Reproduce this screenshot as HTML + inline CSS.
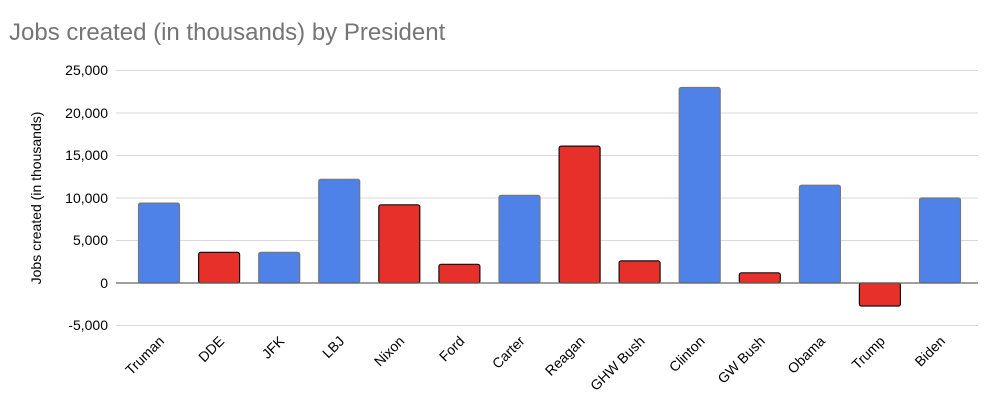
<!DOCTYPE html>
<html><head><meta charset="utf-8"><style>
html,body{margin:0;padding:0;background:#fff;width:1000px;height:411px;overflow:hidden}
svg{display:block;font-family:"Liberation Sans",Arial,sans-serif}
</style></head><body>
<svg width="1000" height="411" viewBox="0 0 1000 411">
<text x="9" y="40" font-size="24" fill="#757575">Jobs created (in thousands) by President</text>
<g stroke="#d9d9d9" stroke-width="1">
<line x1="116" x2="978" y1="70.5" y2="70.5"/>
<line x1="116" x2="978" y1="113" y2="113"/>
<line x1="116" x2="978" y1="155.5" y2="155.5"/>
<line x1="116" x2="978" y1="198" y2="198"/>
<line x1="116" x2="978" y1="240.5" y2="240.5"/>
<line x1="116" x2="978" y1="325.5" y2="325.5"/>
</g>
<g font-size="14" fill="#000" text-anchor="end">
<text x="108" y="75">25,000</text>
<text x="108" y="118">20,000</text>
<text x="108" y="160">15,000</text>
<text x="108" y="203">10,000</text>
<text x="108" y="245">5,000</text>
<text x="108" y="288">0</text>
<text x="108" y="330">-5,000</text>
</g>
<text transform="translate(41,198) rotate(-90)" font-size="14" text-anchor="middle">Jobs created (in thousands)</text>
<g stroke-width="1.2">
<rect x="138.5" y="203.1" width="41" height="79.9" rx="2" fill="#4f82e8" stroke="#777"/>
<rect x="198.6" y="252.4" width="41" height="30.6" rx="2" fill="#e8302a" stroke="#111"/>
<rect x="258.7" y="252.4" width="41" height="30.6" rx="2" fill="#4f82e8" stroke="#777"/>
<rect x="318.7" y="179.3" width="41" height="103.7" rx="2" fill="#4f82e8" stroke="#777"/>
<rect x="378.8" y="204.8" width="41" height="78.2" rx="2" fill="#e8302a" stroke="#111"/>
<rect x="438.9" y="264.3" width="41" height="18.7" rx="2" fill="#e8302a" stroke="#111"/>
<rect x="499" y="195.4" width="41" height="87.6" rx="2" fill="#4f82e8" stroke="#777"/>
<rect x="559.1" y="146.1" width="41" height="136.9" rx="2" fill="#e8302a" stroke="#111"/>
<rect x="619.1" y="260.9" width="41" height="22.1" rx="2" fill="#e8302a" stroke="#111"/>
<rect x="679.2" y="87.5" width="41" height="195.5" rx="2" fill="#4f82e8" stroke="#777"/>
<rect x="739.3" y="272.8" width="41" height="10.2" rx="2" fill="#e8302a" stroke="#111"/>
<rect x="799.4" y="185.2" width="41" height="97.8" rx="2" fill="#4f82e8" stroke="#777"/>
<rect x="859.4" y="283" width="41" height="23" rx="2" fill="#e8302a" stroke="#111"/>
<rect x="919.5" y="198" width="41" height="85" rx="2" fill="#4f82e8" stroke="#777"/>
</g>
<line x1="116" x2="978" y1="283" y2="283" stroke="#666" stroke-width="1.3"/>
<g font-size="14" text-anchor="end">
<text transform="translate(165,342) rotate(-45)">Truman</text>
<text transform="translate(225.1,342) rotate(-45)">DDE</text>
<text transform="translate(285.2,342) rotate(-45)">JFK</text>
<text transform="translate(345.2,342) rotate(-45)">LBJ</text>
<text transform="translate(405.3,342) rotate(-45)">Nixon</text>
<text transform="translate(465.4,342) rotate(-45)">Ford</text>
<text transform="translate(525.5,342) rotate(-45)">Carter</text>
<text transform="translate(585.6,342) rotate(-45)">Reagan</text>
<text transform="translate(645.6,342) rotate(-45)">GHW Bush</text>
<text transform="translate(705.7,342) rotate(-45)">Clinton</text>
<text transform="translate(765.8,342) rotate(-45)">GW Bush</text>
<text transform="translate(825.9,342) rotate(-45)">Obama</text>
<text transform="translate(885.9,342) rotate(-45)">Trump</text>
<text transform="translate(946,342) rotate(-45)">Biden</text>
</g>
</svg>
</body></html>
